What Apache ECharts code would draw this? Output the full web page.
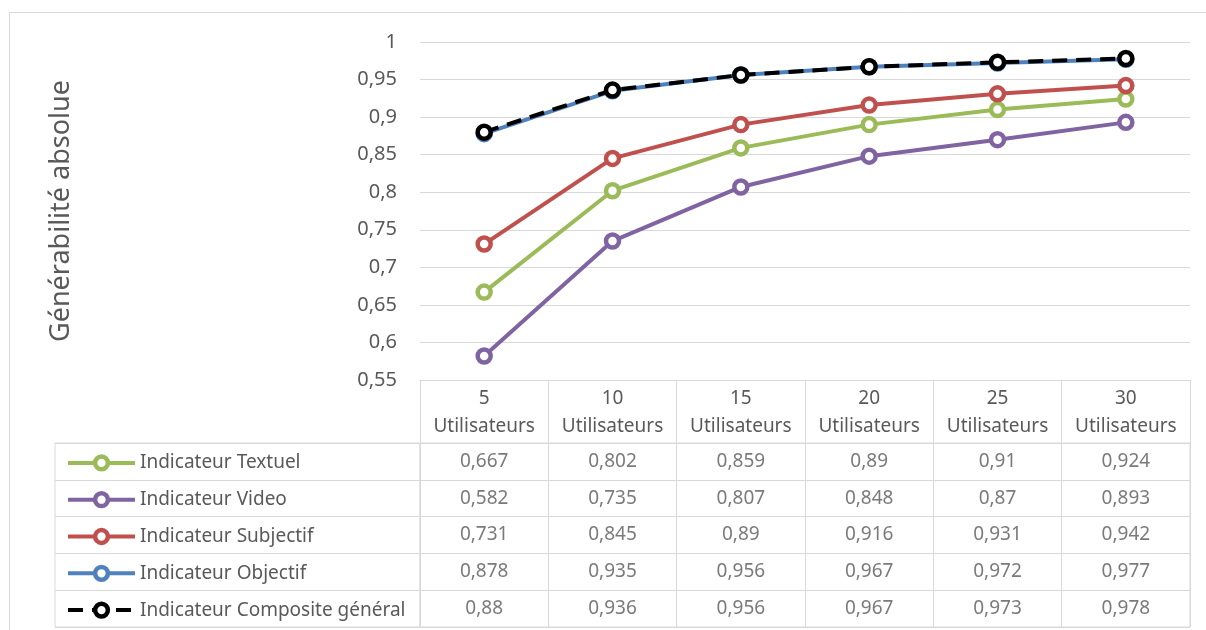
<!DOCTYPE html>
<html>
<head>
<meta charset="utf-8">
<script src="https://cdn.jsdelivr.net/npm/echarts@6/dist/echarts.min.js"></script>
<style>html,body{margin:0;padding:0;background:#fff}#c{width:1206px;height:630px}</style>
</head>
<body>
<div id="c"></div>
<script>
const xLabels = ['5', '10', '15', '20', '25', '30'];
const xUnit = 'Utilisateurs';
const seriesNames = ['Indicateur Textuel', 'Indicateur Video', 'Indicateur Subjectif', 'Indicateur Objectif', 'Indicateur Composite général'];
const textuel = [0.667, 0.802, 0.859, 0.89, 0.91, 0.924];
const video = [0.582, 0.735, 0.807, 0.848, 0.87, 0.893];
const subjectif = [0.731, 0.845, 0.89, 0.916, 0.931, 0.942];
const objectif = [0.878, 0.935, 0.956, 0.967, 0.972, 0.977];
const composite = [0.88, 0.936, 0.956, 0.967, 0.973, 0.978];
const colors = ['#9BBB59', '#8064A2', '#C0504D', '#4F81BD', '#000000'];
const yTitle = 'Générabilité absolue';

const allValues = [textuel, video, subjectif, objectif, composite];
const FONT = '"Noto Sans", "Open Sans", sans-serif';
const TXT = '#595959';
const GRID = '#d9d9d9';
const fmt = v => String(parseFloat(Number(v).toFixed(3))).replace('.', ',');

const lineSeries = allValues.map((vals, k) => ({
  name: seriesNames[k],
  type: 'line',
  xAxisIndex: 0, yAxisIndex: 0,
  data: vals,
  symbol: 'circle',
  symbolSize: 13,
  z: k === 4 ? 5 : 3,
  lineStyle: {color: colors[k], width: 4, type: k === 4 ? [15, 9] : 'solid'},
  itemStyle: {color: '#fff', borderColor: colors[k], borderWidth: 4.5}
}));

const cellData = [];
allValues.forEach((vals, r) => vals.forEach((v, c) => cellData.push([c, r, v])));

// table layout (rows of the data table)
const tableTop = 443, tableBottom = 627;
const rowH = (tableBottom - tableTop) / seriesNames.length;

const legends = seriesNames.map((n, k) => ({
  data: [n],
  orient: 'horizontal',
  left: 66, top: tableTop + rowH * (k + 0.5) - 8,
  padding: 0,
  itemWidth: 67, itemHeight: 16,
  lineStyle: {width: 4},
  itemStyle: {borderWidth: 4.5},
  textStyle: {fontFamily: FONT, fontSize: 19, color: TXT, lineHeight: 16},
  selectedMode: false
}));

const option = {
  animation: false,
  graphic: [{
    type: 'rect', shape: {x: 9.5, y: 12.5, width: 1300, height: 700},
    style: {fill: 'none', stroke: GRID, lineWidth: 1}, z: -1
  }],
  legend: legends,
  grid: [
    {left: 420, right: 16, top: 42, bottom: 250},
    {left: 420, right: 16, top: tableTop, bottom: 630 - tableBottom, show: true, borderColor: GRID, borderWidth: 1},
    {left: 55, width: 365, top: tableTop, bottom: 630 - tableBottom, show: true, borderColor: GRID, borderWidth: 1}
  ],
  xAxis: [
    {type: 'category', gridIndex: 0, data: xLabels, boundaryGap: true,
     axisLine: {show: true, lineStyle: {color: GRID, width: 1}},
     axisTick: {show: true, interval: 0, alignWithLabel: false, length: 63, lineStyle: {color: GRID, width: 1}},
     axisLabel: {interval: 0, margin: 5, fontFamily: FONT, fontSize: 19, color: TXT, lineHeight: 28,
       formatter: v => v + '\n' + xUnit}},
    {type: 'category', gridIndex: 1, data: xLabels, boundaryGap: true,
     axisLine: {show: false}, axisTick: {show: false}, axisLabel: {show: false},
     splitLine: {show: true, interval: 0, lineStyle: {color: GRID, width: 1}}},
    {type: 'value', gridIndex: 2, show: false}
  ],
  yAxis: [
    {type: 'value', gridIndex: 0, min: 0.55, max: 1, interval: 0.05,
     axisLine: {show: false}, axisTick: {show: false},
     splitLine: {lineStyle: {color: GRID, width: 1}},
     axisLabel: {margin: 23, fontFamily: FONT, fontSize: 20, color: TXT, formatter: fmt},
     name: yTitle, nameLocation: 'middle', nameRotate: 90, nameGap: 345,
     nameTextStyle: {fontFamily: FONT, fontSize: 27, color: TXT}},
    {type: 'category', gridIndex: 1, data: seriesNames, inverse: true,
     axisLine: {show: false}, axisTick: {show: false}, axisLabel: {show: false},
     splitLine: {show: true, interval: 0, lineStyle: {color: GRID, width: 1}}},
    {type: 'category', gridIndex: 2, data: seriesNames, inverse: true,
     axisLine: {show: false}, axisTick: {show: false}, axisLabel: {show: false},
     splitLine: {show: true, interval: 0, lineStyle: {color: GRID, width: 1}}}
  ],
  series: lineSeries.concat([{
    name: 'table', type: 'scatter', xAxisIndex: 1, yAxisIndex: 1,
    data: cellData, symbolSize: 0, silent: true,
    label: {show: true, position: 'inside', fontFamily: FONT, fontSize: 19, color: TXT,
      formatter: p => fmt(p.value[2])}
  }])
};
const chart = echarts.init(document.getElementById('c'));
chart.setOption(option);
</script>
</body>
</html>
